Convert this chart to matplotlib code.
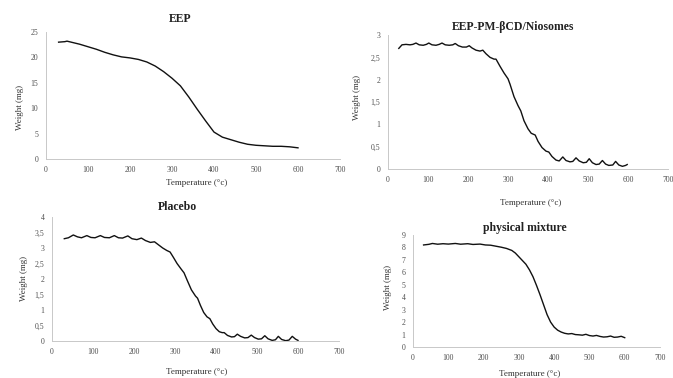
import numpy as np
import matplotlib
matplotlib.use('Agg')
import matplotlib.pyplot as plt
from matplotlib.ticker import FuncFormatter, MultipleLocator

plt.rcParams['font.family'] = ['Liberation Serif', 'DejaVu Serif']

###############################################################################
# Data
###############################################################################
eep_t = [30, 45, 50, 60, 80, 100, 120, 140, 160, 180, 200, 220, 240, 260, 280,
         300, 320, 340, 360, 380, 400, 420, 440, 460, 480, 500, 520, 540, 560,
         580, 600]
eep_w = [23.0, 23.1, 23.2, 23.0, 22.6, 22.1, 21.6, 21.0, 20.5, 20.1, 19.9,
         19.6, 19.1, 18.3, 17.2, 15.9, 14.4, 12.2, 9.8, 7.5, 5.3, 4.3, 3.8,
         3.3, 2.9, 2.7, 2.6, 2.5, 2.5, 2.4, 2.2]

nio_t = [27, 35, 45, 55, 62, 70, 78, 88, 96, 102, 110, 120, 128, 135, 143,
         153, 162, 168, 176, 186, 196, 203, 210, 220, 230, 237, 245, 255, 265,
         270, 280, 290, 300, 305, 315, 325, 332, 340, 350, 358, 368, 375, 385,
         395, 402, 410, 420, 428, 437, 445, 455, 462, 470, 478, 488, 496, 503,
         511, 520, 528, 536, 544, 552, 562, 569, 577, 586, 594, 598]
nio_w = [2.70, 2.78, 2.79, 2.78, 2.79, 2.82, 2.78, 2.77, 2.79, 2.82, 2.78,
         2.77, 2.79, 2.82, 2.78, 2.77, 2.78, 2.81, 2.76, 2.73, 2.73, 2.76,
         2.71, 2.66, 2.64, 2.66, 2.58, 2.50, 2.46, 2.46, 2.30, 2.15, 2.02,
         1.90, 1.62, 1.42, 1.30, 1.08, 0.90, 0.80, 0.76, 0.62, 0.48, 0.40,
         0.38, 0.28, 0.20, 0.18, 0.27, 0.19, 0.16, 0.17, 0.25, 0.18, 0.14,
         0.15, 0.23, 0.14, 0.10, 0.11, 0.19, 0.11, 0.08, 0.09, 0.17, 0.09,
         0.06, 0.08, 0.10]

pla_t = [30, 40, 52, 62, 72, 85, 95, 105, 118, 128, 140, 152, 162, 172, 185,
         195, 207, 218, 228, 240, 250, 258, 270, 280, 288, 296, 305, 315, 322,
         330, 340, 350, 355, 362, 370, 378, 385, 392, 400, 408, 415, 420, 428,
         438, 445, 452, 460, 470, 478, 486, 494, 503, 511, 519, 527, 537, 545,
         552, 560, 570, 578, 586, 594, 600]
pla_w = [3.30, 3.33, 3.42, 3.36, 3.33, 3.40, 3.34, 3.33, 3.40, 3.34, 3.33,
         3.40, 3.33, 3.32, 3.39, 3.30, 3.27, 3.32, 3.24, 3.18, 3.20, 3.12,
         3.00, 2.92, 2.87, 2.70, 2.50, 2.32, 2.20, 1.95, 1.65, 1.45, 1.38,
         1.15, 0.92, 0.78, 0.72, 0.55, 0.40, 0.30, 0.27, 0.27, 0.18, 0.13,
         0.14, 0.22, 0.15, 0.10, 0.11, 0.19, 0.11, 0.06, 0.07, 0.17, 0.07,
         0.02, 0.04, 0.15, 0.05, 0.01, 0.03, 0.15, 0.06, 0.02]

mix_t = [30, 45, 55, 70, 85, 100, 120, 135, 155, 170, 190, 205, 220, 235,
         250, 265, 280, 290, 300, 310, 320, 330, 340, 350, 360, 370, 380, 390,
         400, 410, 420, 430, 440, 450, 460, 470, 480, 490, 500, 510, 520, 530,
         540, 550, 560, 570, 580, 590, 600]
mix_w = [8.20, 8.25, 8.32, 8.26, 8.30, 8.27, 8.32, 8.26, 8.30, 8.24, 8.27,
         8.20, 8.18, 8.10, 8.02, 7.92, 7.76, 7.55, 7.25, 6.95, 6.65, 6.20,
         5.65, 4.95, 4.20, 3.40, 2.60, 2.00, 1.60, 1.35, 1.20, 1.10, 1.05,
         1.08, 1.00, 0.98, 0.95, 1.02, 0.92, 0.88, 0.93, 0.85, 0.80, 0.82,
         0.88, 0.78, 0.80, 0.86, 0.75]

###############################################################################
W, H = 673, 378
fig = plt.figure(figsize=(W / 100, H / 100), dpi=100)

def px(x, y):
    return x / W, 1 - y / H

def comma(v, pos):
    s = ('%g' % v)
    return s.replace('.', ',')

def painel(box, t, w, ymax, ystep, title, tpos, xlpos, ylpos):
    x0, y0, x1, y1 = box
    l, b = px(x0, y0)
    r, t_ = px(x1, y1)
    ax = fig.add_axes([l, b, r - l, t_ - b])
    ax.plot(t, w, color='#111111', lw=1.0)
    ax.set_xlim(0, 700)
    ax.set_ylim(0, ymax)
    ax.xaxis.set_major_locator(MultipleLocator(100))
    ax.yaxis.set_major_locator(MultipleLocator(ystep))
    ax.yaxis.set_major_formatter(FuncFormatter(comma))
    for s in ['top', 'right']:
        ax.spines[s].set_visible(False)
    for s in ['left', 'bottom']:
        ax.spines[s].set_color('#c8c8c8')
        ax.spines[s].set_linewidth(0.7)
    ax.tick_params(length=0, labelsize=5.6, colors='#505050')
    ax.tick_params(axis='y', pad=5.5)
    ax.tick_params(axis='x', pad=5)
    ax.patch.set_alpha(0)
    fig.text(*px(*tpos), title, ha='center', va='center', fontsize=8.5,
             fontweight='bold', color='#222222')
    fig.text(*px(*xlpos), 'Temperature (°c)', ha='center', va='center',
             fontsize=6.5, color='#333333')
    fig.text(*px(*ylpos), 'Weight (mg)', ha='center', va='center',
             fontsize=6.5, color='#333333', rotation=90)
    return ax

painel((46, 159, 340, 32), eep_t, eep_w, 25, 5, 'EEP',
       (180, 19), (197, 183), (20, 107))
painel((388, 169, 668, 35), nio_t, nio_w, 3, 0.5, 'EEP-PM-βCD/Niosomes',
       (513, 27), (531, 203), (357, 97))
painel((52, 341, 339, 217), pla_t, pla_w, 4, 0.5, 'Placebo',
       (177, 207), (197, 372), (24, 278))
painel((413, 347, 660, 235), mix_t, mix_w, 9, 1, 'physical mixture',
       (525, 228), (530, 374), (388, 287))

plt.savefig('out.png', dpi=100)
